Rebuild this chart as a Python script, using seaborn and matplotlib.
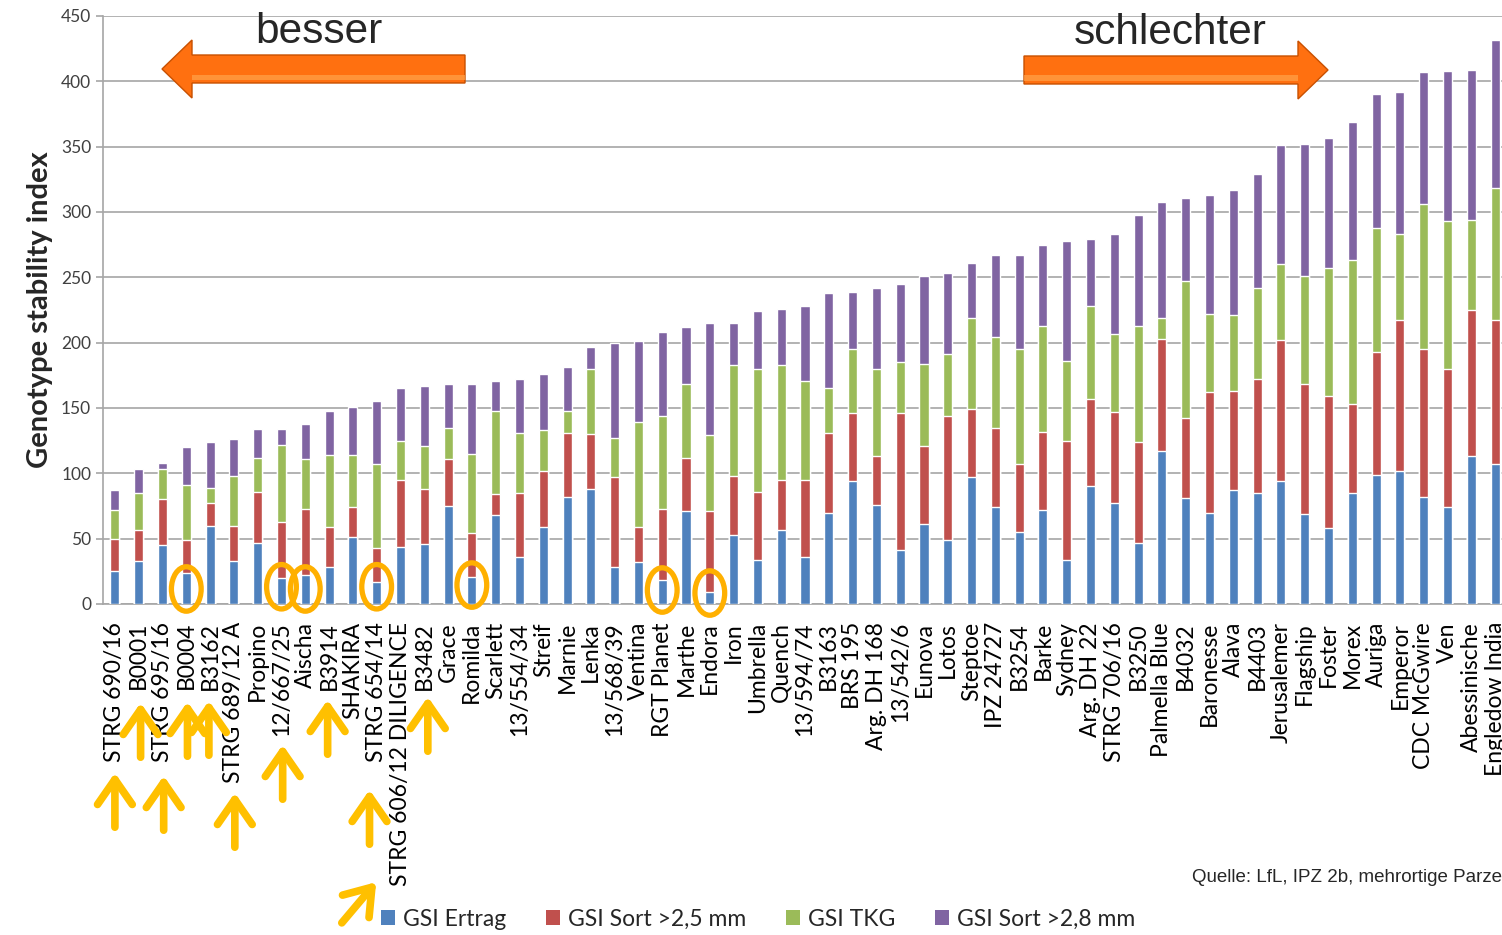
import numpy as np
import pandas as pd
import seaborn as sns
import matplotlib
import matplotlib.pyplot as plt
from matplotlib.patches import Ellipse, FancyArrow, Patch

matplotlib.use('Agg')

sorten = ['STRG 690/16', 'B0001', 'STRG 695/16', 'B0004', 'B3162', 'STRG 689/12 A',
          'Propino', '12/667/25', 'Aischa', 'B3914', 'SHAKIRA', 'STRG 654/14',
          'STRG 606/12 DILIGENCE', 'B3482', 'Grace', 'Romilda', 'Scarlett', '13/554/34',
          'Streif', 'Marnie', 'Lenka', '13/568/39', 'Ventina', 'RGT Planet', 'Marthe',
          'Endora', 'Iron', 'Umbrella', 'Quench', '13/594/74', 'B3163', 'BRS 195',
          'Arg. DH 168', '13/542/6', 'Eunova', 'Lotos', 'Steptoe', 'IPZ 24727', 'B3254',
          'Barke', 'Sydney', 'Arg. DH 22', 'STRG 706/16', 'B3250', 'Palmella Blue',
          'B4032', 'Baronesse', 'Alava', 'B4403', 'Jerusalemer', 'Flagship', 'Foster',
          'Morex', 'Auriga', 'Emperor', 'CDC McGwire', 'Ven', 'Abessinische',
          'Engledow India']

gsi_ertrag = [25, 33, 45, 24, 60, 33, 47, 20, 22, 28, 51, 17, 44, 46, 75, 21, 68, 36,
              59, 82, 88, 28, 32, 18, 71, 9, 53, 34, 57, 36, 70, 94, 76, 41, 61, 49, 97,
              74, 55, 72, 34, 90, 77, 47, 117, 81, 70, 87, 85, 94, 69, 58, 85, 99, 102,
              82, 74, 113, 107]
gsi_sort25 = [25, 24, 35, 25, 17, 27, 39, 43, 51, 31, 23, 26, 51, 42, 36, 33, 16, 49,
              43, 49, 42, 69, 27, 55, 41, 62, 45, 52, 38, 59, 61, 52, 37, 105, 60, 95, 52,
              61, 52, 60, 91, 67, 70, 77, 86, 61, 92, 76, 87, 108, 99, 101, 68, 94, 115,
              113, 106, 112, 110]
gsi_tkg = [22, 28, 23, 42, 12, 38, 26, 59, 38, 55, 40, 64, 30, 33, 24, 61, 64, 46, 31,
           17, 50, 30, 80, 71, 56, 58, 85, 94, 88, 76, 34, 49, 67, 39, 63, 47, 70, 69,
           88, 81, 61, 71, 60, 89, 16, 105, 60, 58, 70, 58, 83, 98, 110, 95, 66, 111,
           113, 69, 101]
gsi_sort28 = [15, 18, 5, 29, 35, 28, 22, 12, 27, 34, 37, 48, 40, 46, 33, 53, 23, 41,
              43, 33, 17, 73, 62, 64, 44, 86, 32, 44, 43, 57, 73, 44, 62, 60, 67, 62, 42,
              63, 72, 62, 92, 51, 76, 85, 89, 64, 91, 96, 87, 91, 101, 100, 106, 102,
              109, 101, 115, 115, 114]

serien = ['GSI Ertrag', 'GSI Sort >2,5 mm', 'GSI TKG', 'GSI Sort >2,8 mm']
farben = ['#4F81BD', '#C0504D', '#9BBB59', '#8064A2']

# markierte Sorten (Kreise) und Pfeile unter den Namen
kreis_sorten = ['B0004', '12/667/25', 'Aischa', 'STRG 654/14', 'Romilda', 'RGT Planet', 'Endora']
kreis_y = [11.5, 13.2, 11.5, 13.2, 14.5, 10.7, 8.4]
pfeil_sorten = ['STRG 690/16', 'B0001', 'STRG 695/16', 'B0004', 'B3162', 'STRG 689/12 A',
                '12/667/25', 'B3914', 'STRG 654/14', 'B3482']
pfeil_spitze_px = [770, 700, 773, 699, 698, 790, 742, 697, 787, 694]
pfeil_dx = [0, 0.08, 0.05, 0.05, -0.05, 0.04, 0.05, -0.06, -0.3, 0.15]

df = pd.DataFrame({'Sorte': sorten, serien[0]: gsi_ertrag, serien[1]: gsi_sort25,
                   serien[2]: gsi_tkg, serien[3]: gsi_sort28})
cum = df[serien].cumsum(axis=1)

sns.set_style('white')
plt.rcParams['font.family'] = ['Lato', 'DejaVu Sans']

W, H = 1502, 935
fig = plt.figure(figsize=(W / 100, H / 100), dpi=100)
ax = fig.add_axes([103 / W, (H - 604) / H, 1404 / W, 588 / H])

# gestapelt: von oben nach unten zeichnen
for s, c in zip(serien[::-1], farben[::-1]):
    sns.barplot(x=df['Sorte'], y=cum[s], color=c, saturation=1, width=0.38,
                order=sorten, errorbar=None, ax=ax, zorder=3)

n = len(sorten)
ax.set_xlim(-0.5, n - 0.5)
ax.set_ylim(0, 450)
ax.set_yticks(np.arange(0, 451, 50))
ax.yaxis.grid(True, color='#A6A6A6', lw=1.2)
ax.set_axisbelow(True)
for sp in ['top', 'right']:
    ax.spines[sp].set_visible(False)
for sp in ['left', 'bottom']:
    ax.spines[sp].set_color('#A6A6A6')
    ax.spines[sp].set_linewidth(1.2)

ax.set_xlabel('')
ax.set_ylabel('Genotype stability index', fontsize=21, fontweight='bold', labelpad=6)
ax.set_xticks(range(n))
ax.set_xticklabels(sorten, rotation=90, fontsize=16.5, color='black')
ax.set_xticks(np.arange(-0.5, n, 1), minor=True)
ax.tick_params(axis='x', which='major', length=0, pad=13)
ax.tick_params(axis='x', which='minor', length=5, width=1.2, color='#A6A6A6', direction='out')
ax.tick_params(axis='y', length=5, width=1.2, color='#A6A6A6', direction='out',
               labelsize=12.5, labelcolor='#404040', left=True)

# Kreise
for s, yv in zip(kreis_sorten, kreis_y):
    ax.add_patch(Ellipse((sorten.index(s), yv), 1.25, 34, fill=False, edgecolor='#FFB000',
                         lw=3.8, clip_on=False, zorder=5))

# gelbe Pfeile
pfeil_stil = dict(arrowstyle='->,head_length=1.8,head_width=1.25', color='#FFC000', lw=5.5)
for s, ty, dx in zip(pfeil_sorten, pfeil_spitze_px, pfeil_dx):
    xi = sorten.index(s) + dx
    ax.annotate('', xy=(xi, H - ty), xytext=(xi, H - ty - 60),
                xycoords=('data', 'figure pixels'), textcoords=('data', 'figure pixels'),
                arrowprops=pfeil_stil, annotation_clip=False)
ax.annotate('', xy=(378, H - 880), xytext=(340, H - 925),
            xycoords='figure pixels', textcoords='figure pixels',
            arrowprops=pfeil_stil, annotation_clip=False)

# orange Pfeile oben
def orange_pfeil(x0, x1, y):
    t = fig.dpi_scale_trans
    a = FancyArrow(x0 / 100, (H - y) / 100, (x1 - x0) / 100, 0, width=0.28,
                   head_width=0.58, head_length=0.30, length_includes_head=True,
                   facecolor='#FF7010', edgecolor='#C85000', lw=1.0, transform=t)
    fig.add_artist(a)
    b = FancyArrow(x0 / 100, (H - y - 8) / 100, (x1 - x0) / 100 * 0.9, 0, width=0.05,
                   head_width=0.05, head_length=0.0, facecolor='#FFA24A', edgecolor='none',
                   alpha=0.7, transform=t)
    fig.add_artist(b)

orange_pfeil(465, 162, 69)
orange_pfeil(1024, 1328, 70)
fig.text(319 / W, 1 - 32 / H, 'besser', fontsize=30.5, family='Liberation Sans',
         ha='center', va='center')
fig.text(1170 / W, 1 - 33 / H, 'schlechter', fontsize=30.5, family='Liberation Sans',
         ha='center', va='center')

fig.text(1192 / W, 1 - 878 / H, 'Quelle: LfL, IPZ 2b, mehrortige Parzellen',
         fontsize=13.5, family='Liberation Sans', ha='left', va='center')

handles = [Patch(facecolor=c, edgecolor='none') for c in farben]
fig.legend(handles, serien, loc='center', bbox_to_anchor=(758 / W, 16 / H), ncol=4,
           frameon=False, fontsize=16.5, handlelength=0.6, handleheight=0.6,
           handletextpad=0.35, columnspacing=1.75)

fig.savefig('out.png', dpi=100)
